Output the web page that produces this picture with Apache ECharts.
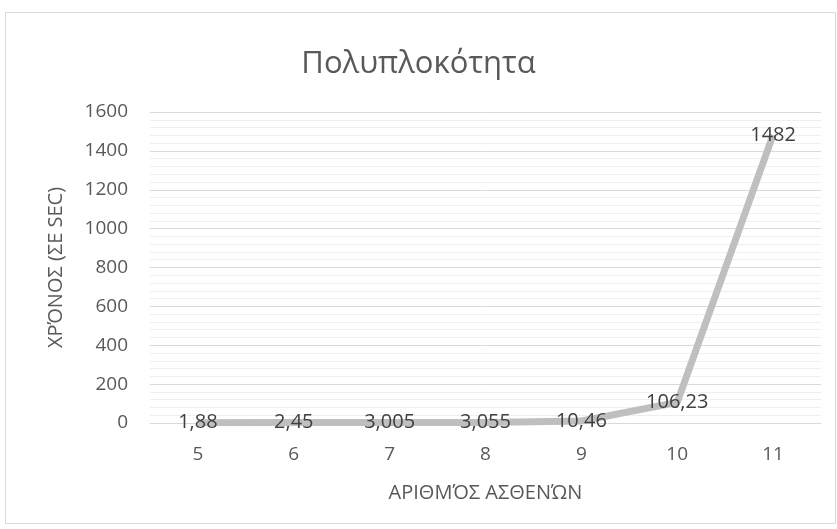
<!DOCTYPE html>
<html><head><meta charset="utf-8">
<script src="https://cdn.jsdelivr.net/npm/echarts@6/dist/echarts.min.js"></script>
<style>html,body{margin:0;padding:0;background:#fff}#c{width:837px;height:529px}</style>
</head><body><div id="c"></div>
<script>
const categories = ['5', '6', '7', '8', '9', '10', '11'];
const times = [1.88, 2.45, 3.005, 3.055, 10.46, 106.23, 1482];
const titleText = 'Πολυπλοκότητα';
const xName = 'ΑΡΙΘΜΌΣ ΑΣΘΕΝΏΝ';
const yName = 'ΧΡΌΝΟΣ (ΣΕ SEC)';

const font = '"Open Sans", "DejaVu Sans", sans-serif';
const chart = echarts.init(document.getElementById('c'), null, {renderer: 'canvas'});
chart.setOption({
  animation: false,
  backgroundColor: '#fff',
  graphic: [{
    type: 'rect', left: 5, top: 12, z: -10,
    shape: {width: 830, height: 511},
    style: {fill: '#fff', stroke: '#d9d9d9', lineWidth: 1}
  }],
  title: {
    text: titleText, left: 'center', top: 44,
    textStyle: {fontFamily: font, fontSize: 31, fontWeight: 'normal', color: '#595959'}
  },
  grid: {left: 150, right: 16, top: 112, bottom: 106},
  xAxis: {
    type: 'category', data: categories, boundaryGap: true,
    name: xName, nameLocation: 'middle', nameGap: 60,
    nameTextStyle: {fontFamily: font, fontSize: 20, color: '#595959'},
    axisLine: {lineStyle: {color: '#d9d9d9', width: 1}},
    axisTick: {show: false},
    axisLabel: {fontFamily: font, fontSize: 19, color: '#595959', margin: 22}
  },
  yAxis: {
    type: 'value', min: 0, max: 1600, interval: 200,
    name: yName, nameLocation: 'middle', nameGap: 84,
    nameTextStyle: {fontFamily: font, fontSize: 20, color: '#595959'},
    axisLine: {show: false}, axisTick: {show: false},
    axisLabel: {fontFamily: font, fontSize: 19, color: '#595959', margin: 22,
      formatter: v => String(v)},
    splitLine: {lineStyle: {color: '#d9d9d9', width: 1}},
    minorTick: {show: false, splitNumber: 5},
    minorSplitLine: {show: true, lineStyle: {color: '#efefef', width: 1}}
  },
  series: [{
    type: 'line', data: times, symbol: 'circle', symbolSize: 0, showSymbol: true,
    itemStyle: {color: '#bfbfbf'},
    lineStyle: {color: '#bfbfbf', width: 7, join: 'round'},
    label: {
      show: true, position: 'inside',
      fontFamily: font, fontSize: 20, color: '#404040',
      formatter: p => String(p.value).replace('.', ',')
    }
  }]
});
</script></body></html>
